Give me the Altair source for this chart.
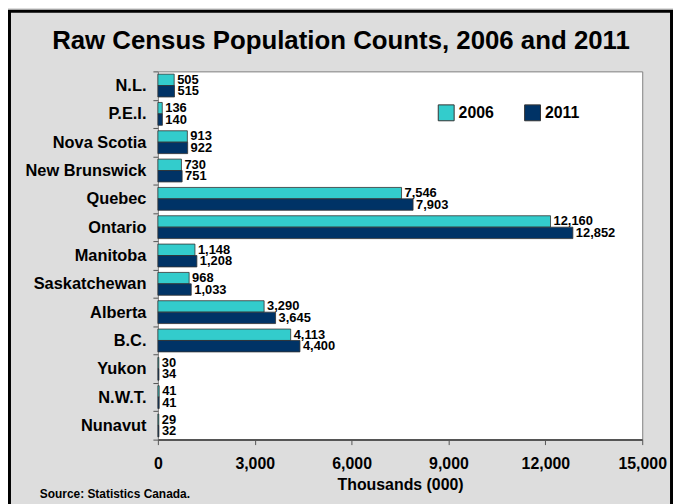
import altair as alt
import pandas as pd

provinces = ["N.L.", "P.E.I.", "Nova Scotia", "New Brunswick", "Quebec", "Ontario",
             "Manitoba", "Saskatchewan", "Alberta", "B.C.", "Yukon", "N.W.T.", "Nunavut"]
pop_2006 = [505, 136, 913, 730, 7546, 12160, 1148, 968, 3290, 4113, 30, 41, 29]
pop_2011 = [515, 140, 922, 751, 7903, 12852, 1208, 1033, 3645, 4400, 34, 41, 32]
years = ["2006", "2011"]
colors = ["#33CCCC", "#003366"]
x_ticks = [0, 3000, 6000, 9000, 12000, 15000]
title_text = "Raw Census Population Counts, 2006 and 2011"
source_text = "Source: Statistics Canada."

rows = []
for p, a, b in zip(provinces, pop_2006, pop_2011):
    rows.append({"province": p, "year": "2006", "value": a})
    rows.append({"province": p, "year": "2011", "value": b})
df = pd.DataFrame(rows)

W, H = 488, 371
FONT = "Liberation Sans"

y_enc = alt.Y(
    "province:N", sort=provinces,
    scale=alt.Scale(paddingInner=0, paddingOuter=0),
    axis=alt.Axis(title=None, tickBand="extent", labelFontSize=16.5, labelFontWeight="bold",
                  labelColor="black", labelFont=FONT, labelPadding=7, tickSize=5,
                  tickColor="#555", domain=False),
)
y_off = alt.YOffset("year:N", sort=years, scale=alt.Scale(paddingOuter=0.24, paddingInner=0))
x_enc = alt.X(
    "value:Q",
    scale=alt.Scale(domain=[0, 15000], nice=False),
    axis=alt.Axis(values=x_ticks, format=",.0f", title="Thousands (000)", grid=False,
                  labelFontSize=16, labelFontWeight="bold", labelColor="black", labelFont=FONT,
                  labelPadding=11, tickSize=5, tickColor="#555", domainColor="#555",
                  domainWidth=2, labelFlush=False, labelOverlap=False,
                  titleFontSize=16, titleFontWeight="bold", titleColor="black",
                  titleFont=FONT, titlePadding=5),
)
color = alt.Color(
    "year:N",
    scale=alt.Scale(domain=years, range=colors),
    legend=alt.Legend(title=None, orient="none", legendX=282, legendY=33,
                      direction="horizontal", symbolType="square", symbolSize=256,
                      symbolStrokeColor="#333", symbolStrokeWidth=1, symbolOpacity=1,
                      labelFontSize=16, labelFontWeight="bold", labelColor="black",
                      labelFont=FONT, columnPadding=28, labelOffset=4, padding=0),
)

bars = alt.Chart(df).mark_bar(stroke="#333", strokeWidth=0.8).encode(
    y=y_enc, yOffset=y_off, x=x_enc, color=color
)

labels = alt.Chart(df).mark_text(
    align="left", baseline="middle", dx=3, fontSize=13, fontWeight="bold",
    font=FONT, color="black"
).encode(
    y=alt.Y("province:N", sort=provinces),
    yOffset=alt.YOffset("year:N", sort=years),
    x=alt.X("value:Q"),
    text=alt.Text("value:Q", format=","),
)

one = pd.DataFrame({"k": [0]})
frame = alt.Chart(one).mark_rect(fill=None, stroke="black", strokeWidth=3).encode(
    x=alt.value(-149.5), x2=alt.value(W + 29.5),
    y=alt.value(-60.5), y2=alt.value(H + 70),
)
title = alt.Chart(one).mark_text(
    text=title_text, align="center", baseline="alphabetic",
    fontSize=26, fontWeight="bold", font=FONT, color="black"
).encode(x=alt.value(184.5), y=alt.value(-23))
source = alt.Chart(one).mark_text(
    text=source_text, align="left", baseline="alphabetic",
    fontSize=12, fontWeight="bold", font=FONT, color="black"
).encode(x=alt.value(-119), y=alt.value(H + 59))

chart = alt.layer(bars, labels, frame, title, source).properties(
    width=W, height=H,
    autosize=alt.AutoSizeParams(type="none"),
    padding={"left": 151, "top": 62, "right": 31, "bottom": 63},
).configure(background="#DDDDDD").configure_view(fill="white", stroke="#808080", strokeWidth=1)

chart.save("out.html", embed_options={"renderer": "svg", "actions": False})
